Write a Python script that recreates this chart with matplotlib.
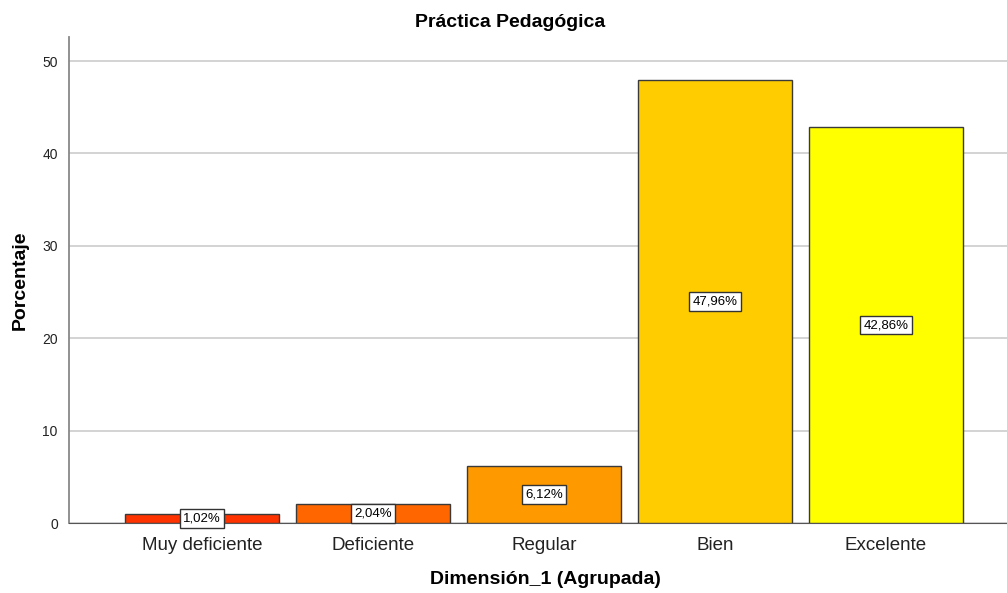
import matplotlib
matplotlib.use("Agg")
import matplotlib.pyplot as plt
import numpy as np

plt.rcParams['font.family'] = ['Liberation Sans', 'DejaVu Sans']

categorias = ['Muy deficiente', 'Deficiente', 'Regular', 'Bien', 'Excelente']
porcentajes = [1.02, 2.04, 6.12, 47.96, 42.86]
colores = ['#FF3300', '#FF6600', '#FF9900', '#FFCC00', '#FFFF00']

fig = plt.figure(figsize=(10.07, 5.93), dpi=100)
ax = fig.add_axes([0.0685, 0.118, 0.9315, 0.8196])

x = np.arange(len(categorias))
ax.bar(x, porcentajes, width=0.9, color=colores, edgecolor='#3a3a3a', linewidth=1, zorder=3)

for xi, v in zip(x, porcentajes):
    ax.text(xi, v / 2, f"{v:.2f}%".replace('.', ','), ha='center', va='center', fontsize=9.5,
            zorder=4, bbox=dict(boxstyle='square,pad=0.25', fc='white', ec='#333333', lw=1))

ax.set_xlim(-0.778, 4.708)
ax.set_ylim(0, 52.6)
ax.set_yticks([0, 10, 20, 30, 40, 50])
ax.set_xticks(x)
ax.set_xticklabels(categorias, fontsize=13.5, color='#222222')
ax.tick_params(axis='y', labelsize=10, length=0, pad=8, colors='#222222')
ax.tick_params(axis='x', length=0, pad=10)
ax.yaxis.grid(True, color='#cccccc', linewidth=1.2, zorder=0)

for s in ['top', 'right']:
    ax.spines[s].set_visible(False)
ax.spines['left'].set_color('#888888')
ax.spines['left'].set_linewidth(1.3)
ax.spines['bottom'].set_color('#555555')

ax.set_ylabel('Porcentaje', fontsize=14, fontweight='bold', labelpad=10)
ax.set_xlabel('Dimensión_1 (Agrupada)', fontsize=14, fontweight='bold')
ax.xaxis.set_label_coords(0.508, -0.098)
fig.text(0.507, 0.962, 'Práctica Pedagógica', fontsize=14, fontweight='bold',
         ha='center', va='center')

fig.savefig('out.png', dpi=100)
